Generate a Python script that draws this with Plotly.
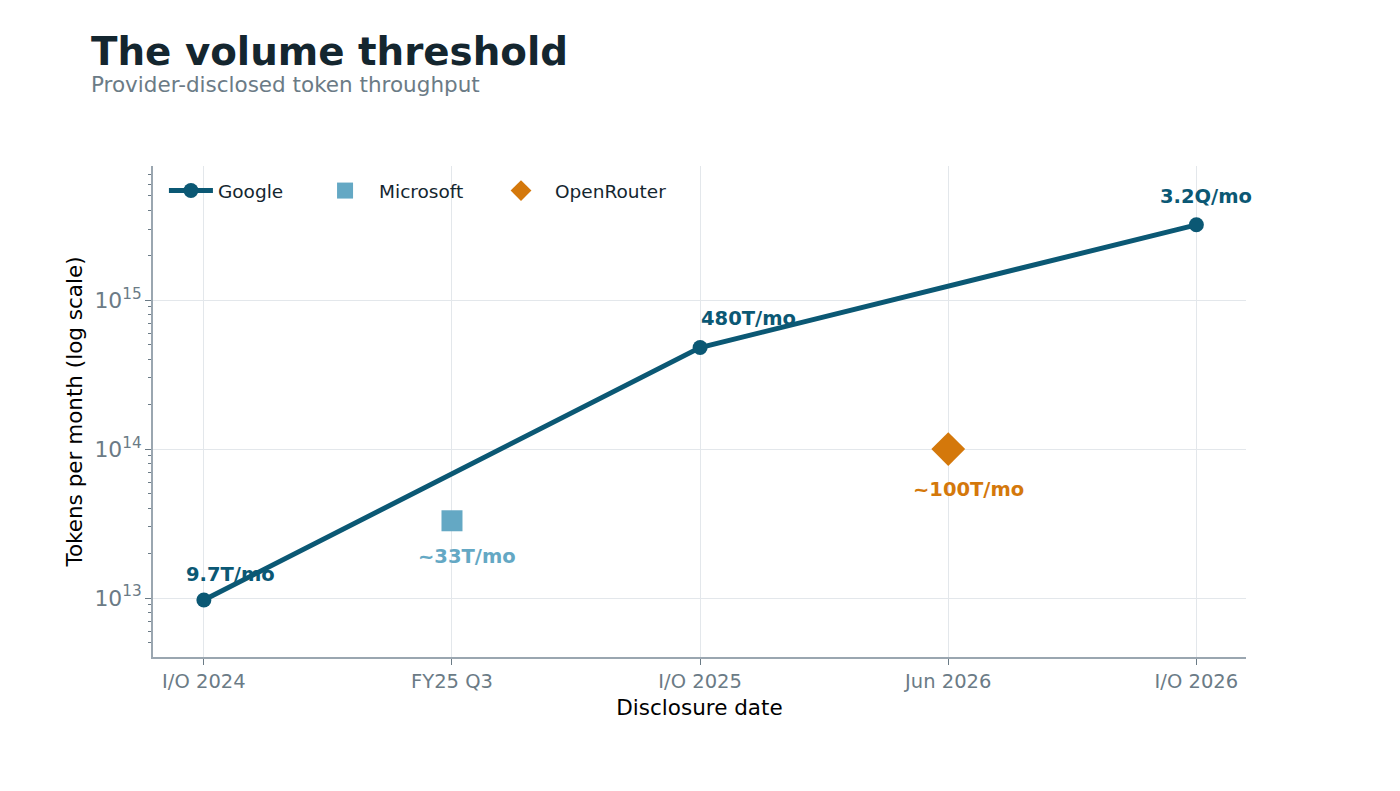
import numpy as np
import plotly.graph_objects as go

# data
dates = ["I/O 2024", "FY25 Q3", "I/O 2025", "Jun 2026", "I/O 2026"]

google_x = ["I/O 2024", "I/O 2025", "I/O 2026"]
google_y = [9.7e12, 4.8e14, 3.2e15]
google_lbl = ["9.7T/mo", "480T/mo", "3.2Q/mo"]

msft_x = ["FY25 Q3"]
msft_y = [3.3e13]
msft_lbl = ["~33T/mo"]

orouter_x = ["Jun 2026"]
orouter_y = [1.0e14]
orouter_lbl = ["~100T/mo"]

C_GOOGLE = "#0b5874"
C_MSFT = "#64a8c4"
C_OR = "#d4780b"
GREY = "#6b7b86"
FONT = "DejaVu Sans"

fig = go.Figure()
fig.add_trace(go.Scatter(
    x=google_x, y=google_y, mode="lines+markers", name="Google", legend="legend",
    line=dict(color=C_GOOGLE, width=5),
    marker=dict(color=C_GOOGLE, size=15, symbol="circle"),
))
fig.add_trace(go.Scatter(
    x=msft_x, y=msft_y, mode="markers", name="Microsoft", legend="legend2",
    marker=dict(color=C_MSFT, size=21, symbol="square"),
))
fig.add_trace(go.Scatter(
    x=orouter_x, y=orouter_y, mode="markers", name="OpenRouter", legend="legend3",
    marker=dict(color=C_OR, size=26, symbol="diamond"),
))

# value labels: annotations on a category/log axis want index and log10(value)
# (x, y, text, colour, xshift, yshift)
labels = [
    (google_x[0], google_y[0], google_lbl[0], C_GOOGLE, 27, 25),
    (google_x[1], google_y[1], google_lbl[1], C_GOOGLE, 48, 29),
    (google_x[2], google_y[2], google_lbl[2], C_GOOGLE, 10, 28),
    (msft_x[0], msft_y[0], msft_lbl[0], C_MSFT, 15, -36),
    (orouter_x[0], orouter_y[0], orouter_lbl[0], C_OR, 20, -40),
]
for x, y, t, c, dx, dy in labels:
    fig.add_annotation(x=dates.index(x), y=np.log10(y), text="<b>%s</b>" % t,
                       showarrow=False, xshift=dx, yshift=dy,
                       font=dict(family=FONT, size=19.5, color=c))

fig.add_annotation(xref="paper", yref="paper", x=-0.0586, y=1.234,
                   xanchor="left", yanchor="middle", showarrow=False,
                   text="<b>The volume threshold</b>",
                   font=dict(family=FONT, size=38.8, color="#14262f"))
fig.add_annotation(xref="paper", yref="paper", x=-0.0586, y=1.165,
                   xanchor="left", yanchor="middle", showarrow=False,
                   text="Provider-disclosed token throughput",
                   font=dict(family=FONT, size=21.5, color=GREY))

leg = dict(orientation="h", yanchor="middle", y=0.949, xanchor="left",
           bgcolor="rgba(0,0,0,0)",
           font=dict(family=FONT, size=18.5, color="#14262f"))

fig.update_layout(
    width=1400, height=791,
    margin=dict(l=145, r=162, t=158, b=142),
    paper_bgcolor="white", plot_bgcolor="white",
    font=dict(family=FONT, color="#14262f"),
    showlegend=True,
    legend=dict(leg, x=0.010, itemwidth=44),
    legend2=dict(leg, x=0.1446, itemwidth=58),
    legend3=dict(leg, x=0.3056, itemwidth=58),
)
fig.update_xaxes(
    type="category", categoryorder="array", categoryarray=dates,
    range=[-0.205, 4.2],
    showgrid=True, gridcolor="#e3e7eb", gridwidth=1,
    showline=True, linecolor="#9aa6b0", linewidth=1.5,
    ticks="outside", ticklen=6, tickcolor=GREY,
    tickfont=dict(family=FONT, size=19.5, color=GREY),
    title=dict(text="Disclosure date", font=dict(family=FONT, size=21.5, color="black"), standoff=8),
    zeroline=False,
)
fig.update_yaxes(
    type="log", range=[12.604, 15.9],
    dtick=1, exponentformat="power",
    showgrid=True, gridcolor="#e3e7eb", gridwidth=1,
    showline=True, linecolor="#9aa6b0", linewidth=1.5,
    ticks="outside", ticklen=6, tickcolor=GREY,
    minor=dict(ticks="outside", ticklen=3.5, tickcolor=GREY, showgrid=False),
    tickfont=dict(family=FONT, size=17.5, color=GREY),
    title=dict(text="Tokens per month (log scale)", font=dict(family=FONT, size=21.5, color="black"), standoff=6),
    zeroline=False,
)

fig.write_html("out.html")
